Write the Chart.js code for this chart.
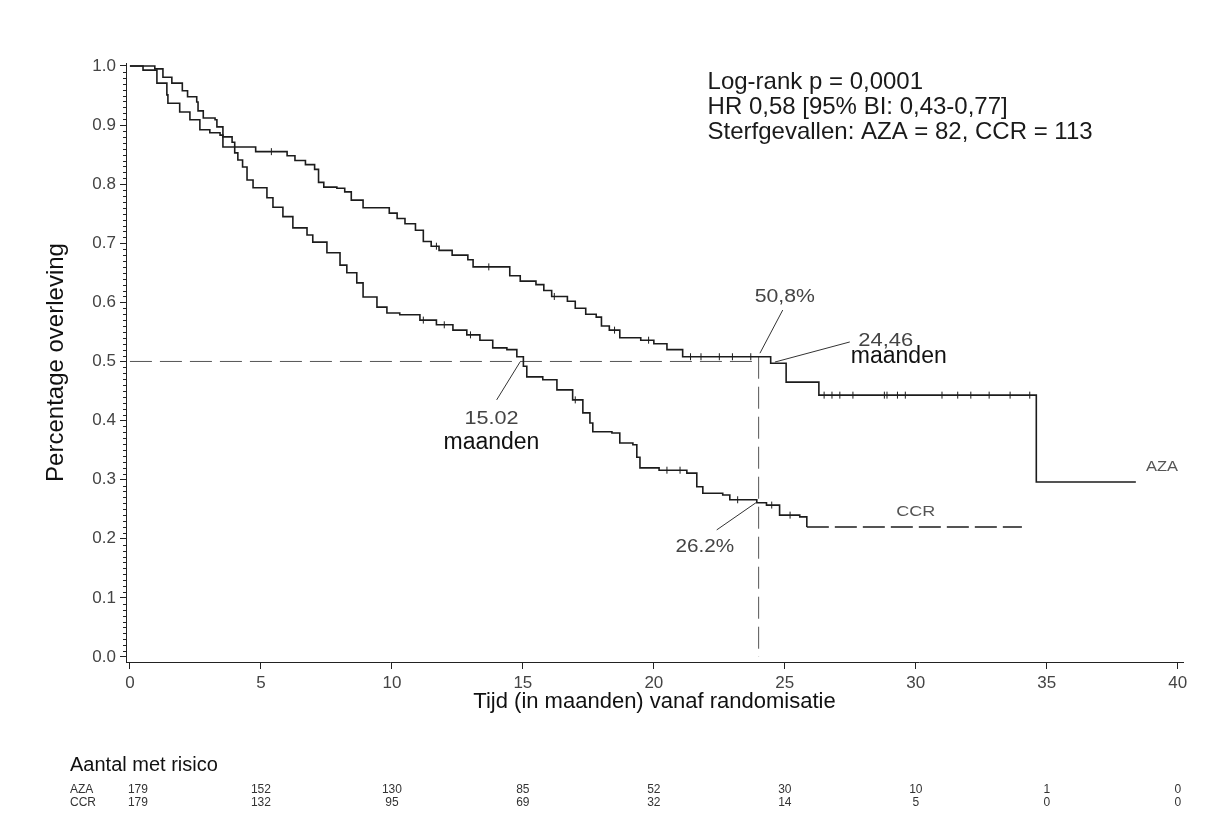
<!DOCTYPE html>
<html>
<head>
<meta charset="utf-8">
<script src="https://cdn.jsdelivr.net/npm/chart.js@4.4.1/dist/chart.umd.min.js"></script>
<style>
  html, body { margin: 0; padding: 0; background: #fff; }
  #wrap { width: 1211px; height: 821px; }
</style>
</head>
<body>
<div id="wrap"><canvas id="kmChart" width="1211" height="821"></canvas></div>
<script>
// assen
const xTicks = [0, 5, 10, 15, 20, 25, 30, 35, 40];
const yTicks = [0, 0.1, 0.2, 0.3, 0.4, 0.5, 0.6, 0.7, 0.8, 0.9, 1.0];

// Kaplan-Meier curves (tijd in maanden, overleving)
const azaTime = [0, 0.5, 1.03, 1.41, 1.45, 1.9, 2.29, 2.67, 3.05, 3.44, 3.55, 4.8, 6.0, 6.3, 6.7, 7.05, 7.2, 7.4, 7.9, 8.2, 8.45, 8.9, 9.9, 10.2, 10.5, 10.9, 11.2, 11.5, 11.8, 12.3, 12.9, 13.1, 14.5, 14.9, 15.5, 15.8, 16.1, 16.7, 17.0, 17.4, 17.8, 18.0, 18.3, 18.7, 19.5, 20.0, 20.5, 21.1, 24.46, 25.05, 26.3, 34.6, 38.4];
const azaSurv = [1.0, 0.993, 0.971, 0.951, 0.937, 0.922, 0.909, 0.892, 0.887, 0.883, 0.863, 0.855, 0.848, 0.84, 0.833, 0.825, 0.803, 0.795, 0.793, 0.787, 0.773, 0.76, 0.751, 0.742, 0.733, 0.722, 0.703, 0.695, 0.688, 0.68, 0.672, 0.66, 0.645, 0.636, 0.63, 0.62, 0.61, 0.602, 0.59, 0.58, 0.575, 0.56, 0.553, 0.54, 0.536, 0.53, 0.52, 0.508, 0.497, 0.465, 0.443, 0.296, 0.296];

const ccrTime = [0, 0.95, 1.26, 1.6, 2.0, 2.2, 2.55, 2.6, 2.8, 3.25, 3.32, 3.55, 3.9, 4.0, 4.12, 4.3, 4.47, 4.7, 5.23, 5.46, 5.84, 6.22, 6.76, 6.98, 7.52, 8.02, 8.28, 8.66, 8.9, 9.43, 9.81, 10.3, 11.07, 11.7, 12.33, 12.86, 13.36, 13.85, 14.39, 14.77, 15.02, 15.15, 15.76, 16.3, 16.9, 17.29, 17.56, 17.67, 18.4, 18.7, 19.2, 19.35, 19.47, 20.2, 21.26, 21.64, 21.87, 22.63, 22.9, 23.93, 24.3, 24.8, 25.57, 25.84, 34.05];
const ccrSurv = [1.0, 0.995, 0.981, 0.971, 0.958, 0.948, 0.939, 0.924, 0.912, 0.909, 0.897, 0.88, 0.871, 0.853, 0.841, 0.829, 0.807, 0.794, 0.777, 0.761, 0.745, 0.726, 0.714, 0.702, 0.684, 0.663, 0.65, 0.633, 0.609, 0.592, 0.582, 0.579, 0.57, 0.562, 0.553, 0.545, 0.536, 0.523, 0.52, 0.508, 0.492, 0.474, 0.469, 0.452, 0.435, 0.413, 0.396, 0.381, 0.379, 0.362, 0.359, 0.338, 0.32, 0.316, 0.311, 0.288, 0.277, 0.274, 0.266, 0.261, 0.257, 0.24, 0.237, 0.22, 0.22];

// gecensureerde waarnemingen
const azaCensor = [5.4, 11.7, 13.7, 16.2, 18.5, 19.8, 21.4, 21.8, 22.5, 23.0, 23.7, 26.5, 26.8, 27.1, 27.6, 28.8, 28.9, 29.3, 29.6, 31.0, 31.6, 32.1, 32.8, 33.6, 34.35];
const ccrCensor = [11.2, 12.0, 13.0, 17.0, 20.5, 21.0, 23.2, 24.5, 25.2];

// mediaan / 24 maanden
const refTime = 24;
const refLevel = 0.5;
const azaAtRef = 0.508;

// aantal met risico
const riskTimes = [0, 5, 10, 15, 20, 25, 30, 35, 40];
const riskAza = [179, 152, 130, 85, 52, 30, 10, 1, 0];
const riskCcr = [179, 132, 95, 69, 32, 14, 5, 0, 0];

const statLines = ['Log-rank p = 0,0001', 'HR 0,58 [95% BI: 0,43-0,77]', 'Sterfgevallen: AZA = 82, CCR = 113'];

const FONT = '"Liberation Sans", Arial, sans-serif';

function stepValue(times, surv, t) {
    let v = surv[0];
    for (let i = 0; i < times.length; i++) {
        if (times[i] <= t) v = surv[i];
    }
    return v;
}

const toPoints = (times, surv) => times.map((t, i) => ({ x: t, y: surv[i] }));

function drawText(ctx, text, x, y, size, color, align, sx) {
    ctx.save();
    ctx.font = size + 'px ' + FONT;
    ctx.fillStyle = color;
    ctx.textAlign = align || 'center';
    ctx.textBaseline = 'middle';
    ctx.translate(x, y);
    ctx.scale(sx || 1, 1);
    ctx.fillText(text, 0, 0);
    ctx.restore();
}

function leader(ctx, a, b) {
    ctx.beginPath();
    ctx.moveTo(a[0], a[1]);
    ctx.lineTo(b[0], b[1]);
    ctx.stroke();
}

// tekst, verbindingslijnen en risicotabel
const extras = {
    id: 'extras',
    afterDraw(chart) {
        const ctx = chart.ctx;
        const xs = chart.scales.x, ys = chart.scales.y;
        const P = (t, s) => [xs.getPixelForValue(t), ys.getPixelForValue(s)];

        // kleine streepjes op de y-as
        ctx.save();
        ctx.strokeStyle = '#222';
        ctx.lineWidth = 1;
        const ax = chart.chartArea.left;
        for (let i = 0; i <= 100; i++) {
            if (i % 10 === 0) continue;
            const y = Math.round(ys.getPixelForValue(i / 100)) + 0.5;
            ctx.beginPath();
            ctx.moveTo(ax - 3, y);
            ctx.lineTo(ax, y);
            ctx.stroke();
        }

        // verbindingslijnen
        ctx.strokeStyle = '#333';
        leader(ctx, P(24.92, 0.587), P(24.05, 0.514));
        leader(ctx, P(27.48, 0.533), P(24.62, 0.499));
        leader(ctx, P(14.89, 0.499), P(14.0, 0.435));
        leader(ctx, P(22.4, 0.215), P(23.93, 0.262));
        ctx.restore();

        let p = P(25.0, 0.609);
        drawText(ctx, '50,8%', p[0], p[1], 18, '#444', 'center', 1.18);
        p = P(28.85, 0.535);
        drawText(ctx, '24,46', p[0], p[1], 18, '#444', 'center', 1.22);
        p = P(29.35, 0.508);
        drawText(ctx, 'maanden', p[0], p[1], 23, '#111');
        p = P(13.8, 0.402);
        drawText(ctx, '15.02', p[0], p[1], 18, '#444', 'center', 1.2);
        p = P(13.8, 0.363);
        drawText(ctx, 'maanden', p[0], p[1], 23, '#111');
        p = P(21.95, 0.186);
        drawText(ctx, '26.2%', p[0], p[1], 18, '#444', 'center', 1.15);

        p = P(39.4, 0.321);
        drawText(ctx, 'AZA', p[0], p[1], 15, '#555', 'center', 1.1);
        p = P(30.0, 0.245);
        drawText(ctx, 'CCR', p[0], p[1], 15, '#555', 'center', 1.2);

        // statistiek
        p = P(22.05, 0.972);
        statLines.forEach((line, i) => drawText(ctx, line, p[0], p[1] + i * 25, 24, '#1a1a1a', 'left'));

        // aantal met risico
        drawText(ctx, 'Aantal met risico', 70, 765, 20, '#111', 'left');
        drawText(ctx, 'AZA', 70, 790, 12, '#333', 'left');
        drawText(ctx, 'CCR', 70, 803, 12, '#333', 'left');
        riskTimes.forEach((t, i) => {
            const x = xs.getPixelForValue(t) + (i === 0 ? 8 : 0);
            drawText(ctx, String(riskAza[i]), x, 790, 12, '#333');
            drawText(ctx, String(riskCcr[i]), x, 803, 12, '#333');
        });
    }
};

const lineColor = '#1c1c1c';
const refColor = '#555';

new Chart(document.getElementById('kmChart'), {
    type: 'line',
    data: {
        datasets: [
            {
                label: 'AZA',
                data: toPoints(azaTime, azaSurv),
                stepped: true,
                borderColor: lineColor,
                borderWidth: 1.6,
                pointRadius: 0,
                fill: false
            },
            {
                label: 'CCR',
                data: toPoints(ccrTime, ccrSurv),
                stepped: true,
                borderColor: lineColor,
                borderWidth: 1.6,
                pointRadius: 0,
                fill: false,
                segment: {
                    borderDash: c => c.p1DataIndex === ccrTime.length - 1 ? [22, 6] : undefined
                }
            },
            {
                label: 'AZA censuur',
                data: azaCensor.map(t => ({ x: t, y: stepValue(azaTime, azaSurv, t) })),
                showLine: false,
                pointStyle: 'line',
                rotation: 90,
                pointRadius: 3.5,
                borderColor: lineColor,
                borderWidth: 1
            },
            {
                label: 'CCR censuur',
                data: ccrCensor.map(t => ({ x: t, y: stepValue(ccrTime, ccrSurv, t) })),
                showLine: false,
                pointStyle: 'line',
                rotation: 90,
                pointRadius: 3.5,
                borderColor: lineColor,
                borderWidth: 1
            },
            {
                label: 'mediaan',
                data: [{ x: 0, y: refLevel }, { x: refTime, y: refLevel }],
                borderColor: refColor,
                borderWidth: 1,
                borderDash: [22, 8],
                pointRadius: 0
            },
            {
                label: '24 maanden',
                data: [{ x: refTime, y: azaAtRef }, { x: refTime, y: 0 }],
                borderColor: refColor,
                borderWidth: 1,
                borderDash: [22, 8],
                pointRadius: 0
            }
        ]
    },
    options: {
        responsive: false,
        animation: false,
        layout: { padding: { left: 0, right: 28, top: 63, bottom: 0 } },
        plugins: {
            legend: { display: false },
            tooltip: { enabled: false }
        },
        scales: {
            x: {
                type: 'linear',
                min: -0.15,
                max: 40.2,
                afterBuildTicks: axis => { axis.ticks = xTicks.map(v => ({ value: v })); },
                afterFit: axis => { axis.height = 159; },
                ticks: {
                    color: '#444',
                    font: { family: FONT, size: 17 },
                    padding: 4,
                    maxRotation: 0
                },
                grid: { drawOnChartArea: false, drawTicks: true, tickLength: 7, color: '#222' },
                border: { display: true, color: '#222', width: 1 },
                title: {
                    display: true,
                    text: 'Tijd (in maanden) vanaf randomisatie',
                    color: '#111',
                    font: { family: FONT, size: 22 },
                    padding: { top: 0, bottom: 106 }
                }
            },
            y: {
                type: 'linear',
                min: -0.0085,
                max: 1.005,
                afterBuildTicks: axis => { axis.ticks = yTicks.map(v => ({ value: v })); },
                afterFit: axis => { axis.width = 126; },
                ticks: {
                    color: '#444',
                    font: { family: FONT, size: 17 },
                    padding: 4,
                    callback: v => v.toFixed(1)
                },
                grid: { drawOnChartArea: false, drawTicks: true, tickLength: 6, color: '#222' },
                border: { display: true, color: '#222', width: 1 },
                title: {
                    display: true,
                    text: 'Percentage overleving',
                    color: '#111',
                    font: { family: FONT, size: 24 },
                    padding: { top: 42, bottom: 0 }
                }
            }
        }
    },
    plugins: [extras]
});
</script>
</body>
</html>
